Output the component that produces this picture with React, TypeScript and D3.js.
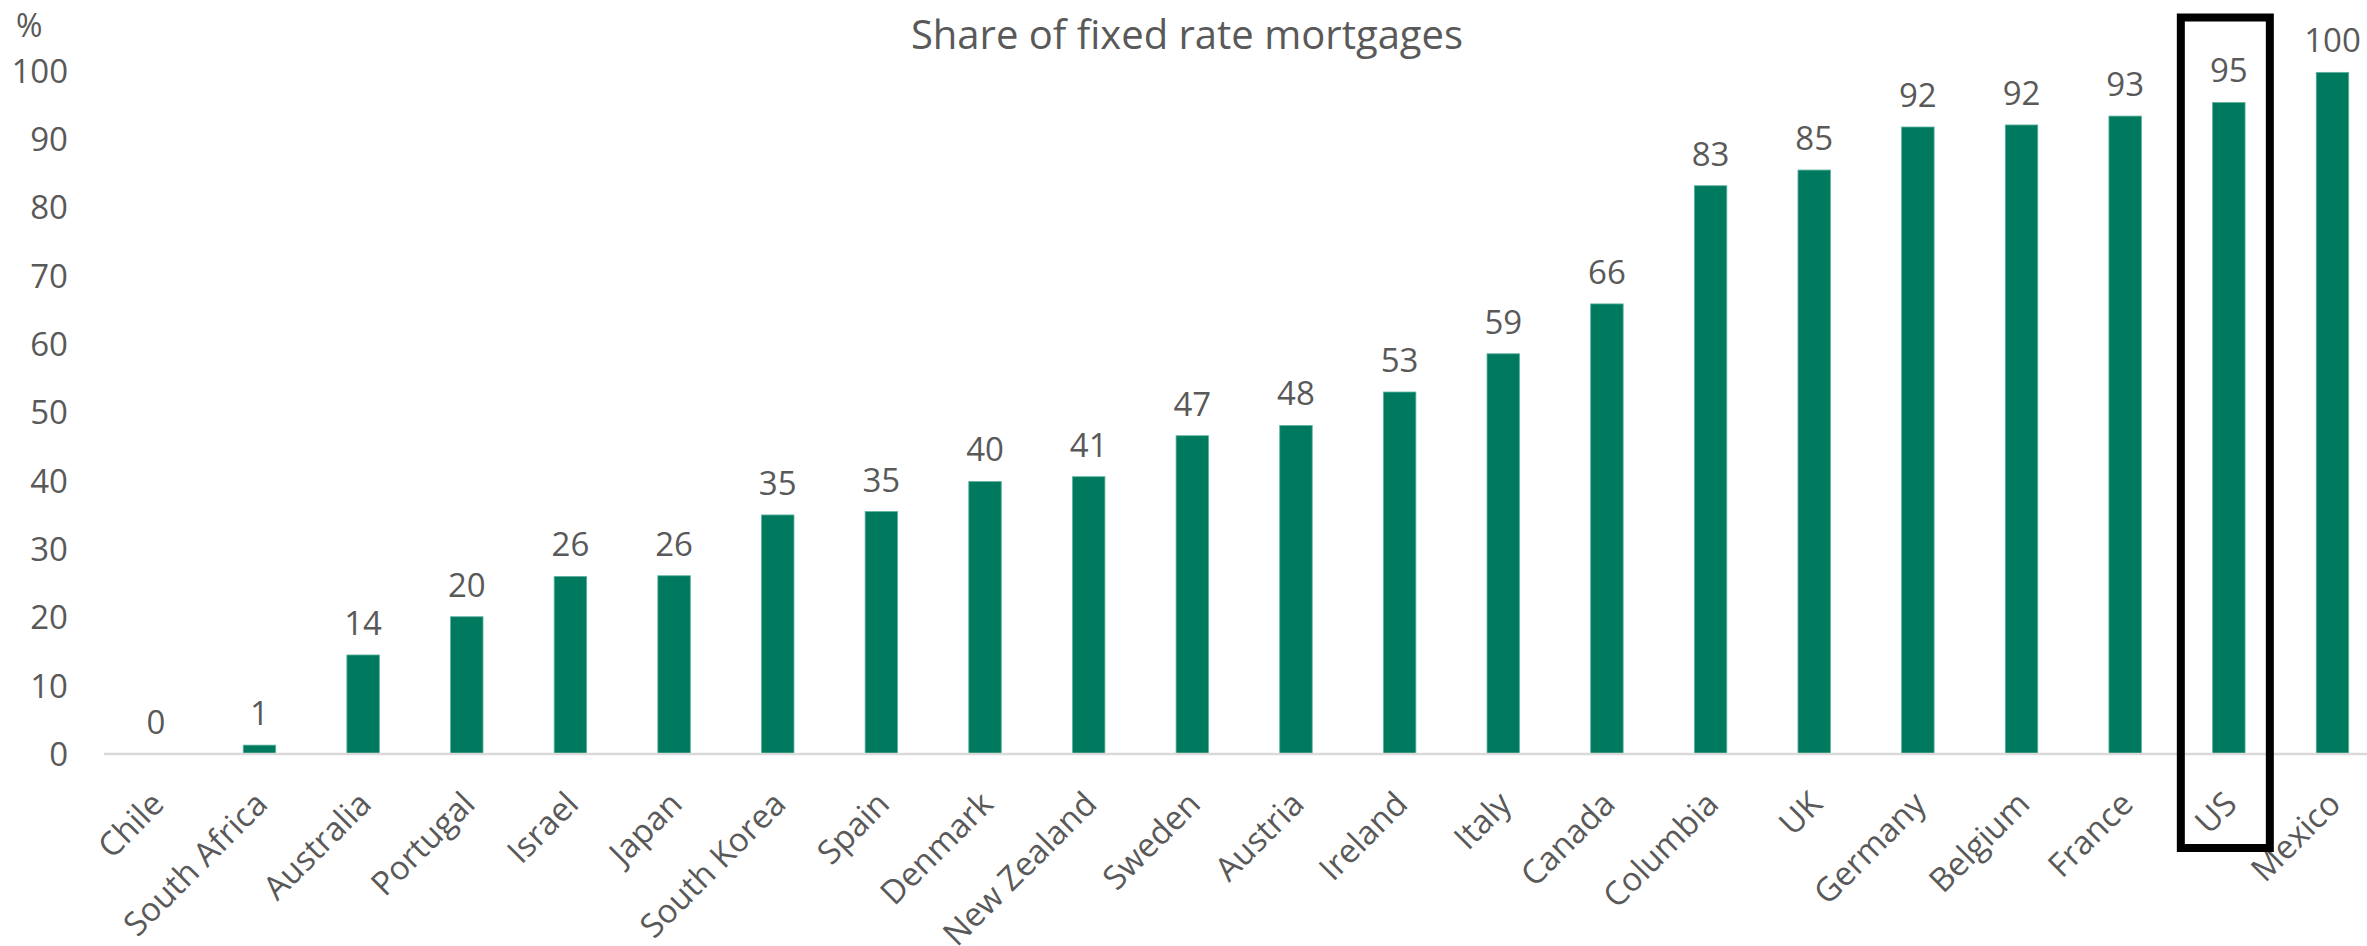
import React from "react";
import * as d3 from "d3";

const categories = ["Chile","South Africa","Australia","Portugal","Israel","Japan","South Korea","Spain","Denmark","New Zealand","Sweden","Austria","Ireland","Italy","Canada","Columbia","UK","Germany","Belgium","France","US","Mexico"];
const values = [0,1.3,14.5,20.1,26.0,26.1,35.0,35.5,39.9,40.6,46.6,48.1,53.0,58.6,65.9,83.2,85.5,91.8,92.1,93.4,95.4,99.8];
const labels = ["0","1","14","20","26","26","35","35","40","41","47","48","53","59","66","83","85","92","92","93","95","100"];
const yTicks = [0,10,20,30,40,50,60,70,80,90,100];
const highlighted = "US";

const W = 2367, H = 946;
const FONT = "'Segoe UI', 'Open Sans', sans-serif";
const GRAY = "#595959";

export default function App() {
  const x = d3.scaleBand<string>().domain(categories).range([104, 104 + 22 * 103.65]).paddingInner(0).paddingOuter(0);
  const y = d3.scaleLinear().domain([0, 100]).range([754, 71]);
  const bw = 32.5;
  const hx = (x(highlighted) as number) + x.bandwidth() / 2;
  return (
    <div style={{ position: "absolute", left: 0, top: 0 }}>
      <svg width={W} height={H} style={{ display: "block", background: "#fff" }} fontFamily={FONT}>
        <text x={1187} y={49} textAnchor="middle" fontSize={40} fill={GRAY}>Share of fixed rate mortgages</text>
        <text x={16} y={37} fontSize={32} fill={GRAY}>%</text>
        {yTicks.map(t => (
          <text key={t} x={68} y={y(t)} dy="0.36em" textAnchor="end" fontSize={33} fill={GRAY}>{t}</text>
        ))}
        {categories.map((c, i) => {
          const cx = (x(c) as number) + x.bandwidth() / 2;
          return (
            <g key={c}>
              <rect x={cx - bw / 2} y={y(values[i])} width={bw} height={y(0) - y(values[i])} fill="#007A5F" stroke="#5fb3a0" strokeWidth={0.8} />
              <text x={cx} y={y(values[i]) - 20} textAnchor="middle" fontSize={33} fill={GRAY}>{labels[i]}</text>
              <text transform={`translate(${cx + 10},${806}) rotate(-45)`} textAnchor="end" fontSize={33} fill={GRAY}>{c}</text>
            </g>
          );
        })}
        <line x1={104} x2={W} y1={y(0)} y2={y(0)} stroke="#D9D9D9" strokeWidth={2.5} />
        <rect x={hx - 48} y={17.5} width={89} height={830.5} fill="none" stroke="#000" strokeWidth={8} />
      </svg>
    </div>
  );
}
